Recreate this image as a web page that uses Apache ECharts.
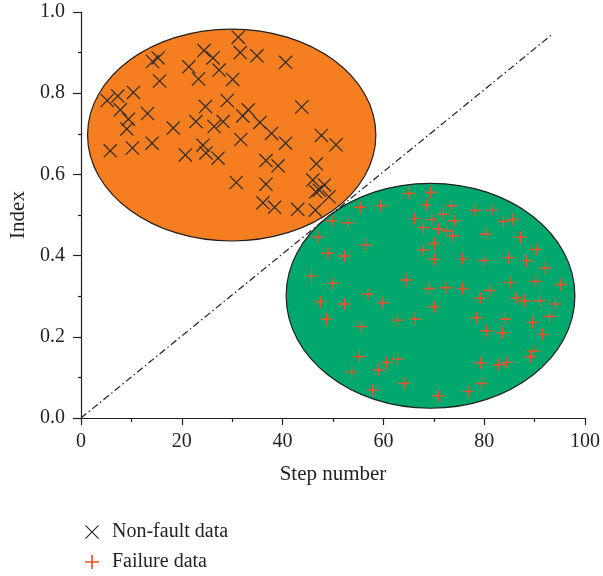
<!DOCTYPE html>
<html>
<head>
<meta charset="utf-8">
<script src="https://cdn.jsdelivr.net/npm/echarts@6/dist/echarts.min.js"></script>
<style>
  html, body { margin: 0; padding: 0; background: #fff; }
  #chart { width: 603px; height: 576px; }
</style>
</head>
<body>
<div id="chart"></div>
<script>
// Non-fault samples: [step number, index]
var nonFaultData = [
  [31.2, 0.938], [15.3, 0.887], [14.2, 0.878], [24.4, 0.905], [26.2, 0.887],
  [31.6, 0.900], [34.9, 0.892], [40.6, 0.876], [21.4, 0.865], [27.4, 0.857],
  [23.3, 0.835], [30.1, 0.834], [15.6, 0.830], [5.2, 0.782], [7.3, 0.793],
  [10.4, 0.802], [7.8, 0.759], [9.4, 0.736], [9.1, 0.712], [13.2, 0.750],
  [24.7, 0.767], [29.0, 0.782], [33.2, 0.759], [32.1, 0.744], [43.8, 0.766],
  [18.3, 0.714], [22.8, 0.730], [28.2, 0.730], [26.4, 0.718], [35.5, 0.728],
  [37.8, 0.701], [31.7, 0.686], [40.6, 0.677], [47.7, 0.696], [50.6, 0.673],
  [5.8, 0.658], [10.2, 0.665], [14.1, 0.677], [20.7, 0.648], [24.2, 0.672],
  [24.8, 0.653], [27.2, 0.640], [36.7, 0.634], [39.1, 0.621], [46.7, 0.626],
  [30.8, 0.580], [36.7, 0.576], [46.0, 0.586], [48.3, 0.574], [46.6, 0.557],
  [49.2, 0.545], [36.1, 0.530], [38.4, 0.519], [43.0, 0.514], [46.5, 0.512],
  [47.3, 0.561]
];

// Failure samples: [step number, index]
var failureData = [
  [65.1, 0.553], [69.4, 0.556], [55.4, 0.519], [59.5, 0.523], [68.5, 0.525],
  [73.5, 0.523], [71.9, 0.502], [78.2, 0.511], [81.5, 0.512], [66.2, 0.491],
  [69.6, 0.489], [74.0, 0.486], [83.8, 0.484], [85.7, 0.489], [49.8, 0.485],
  [52.9, 0.481], [67.9, 0.469], [70.9, 0.466], [72.7, 0.461], [73.8, 0.449],
  [80.3, 0.453], [87.2, 0.445], [47.0, 0.445], [56.5, 0.426], [70.1, 0.430],
  [67.9, 0.414], [49.0, 0.406], [52.3, 0.399], [70.1, 0.391], [75.7, 0.392],
  [79.9, 0.388], [84.9, 0.395], [88.4, 0.387], [90.3, 0.415], [92.1, 0.369],
  [45.7, 0.350], [50.0, 0.332], [64.5, 0.340], [85.1, 0.334], [90.2, 0.336],
  [95.2, 0.329], [69.1, 0.319], [72.4, 0.321], [75.7, 0.319], [81.1, 0.314],
  [56.9, 0.305], [47.5, 0.286], [52.3, 0.281], [59.9, 0.284], [79.2, 0.295],
  [86.3, 0.296], [88.0, 0.288], [91.0, 0.289], [94.1, 0.281], [70.1, 0.274],
  [48.7, 0.244], [62.8, 0.241], [66.3, 0.244], [78.5, 0.247], [84.2, 0.243],
  [93.0, 0.250], [89.6, 0.235], [55.6, 0.225], [80.4, 0.215], [83.6, 0.210],
  [91.6, 0.206], [55.2, 0.151], [89.8, 0.165], [89.2, 0.151], [62.8, 0.145],
  [60.6, 0.137], [53.7, 0.113], [59.1, 0.118], [79.3, 0.136], [82.9, 0.131],
  [84.5, 0.137], [64.1, 0.085], [79.5, 0.085], [57.9, 0.069], [76.8, 0.065],
  [70.9, 0.055]
];

// Cluster regions: [centre step, centre index, step radius, index radius]
var clusterRegions = [
  [29.9, 0.697, 28.6, 0.261],
  [69.35, 0.301, 28.65, 0.277]
];
var clusterColors = ['#F47E20', '#00A86E'];

// Separating boundary
var boundaryLine = [[0, 0], [93.3, 0.943]];

var xTicks = [0, 20, 40, 60, 80, 100];
var yTicks = [0.0, 0.2, 0.4, 0.6, 0.8, 1.0];

var seriesNames = ['Non-fault data', 'Failure data'];

var INK = '#231f20';
var FONT = '"Liberation Serif", "Times New Roman", serif';
var CROSS_PATH = 'path://M0,0.6L0.6,0L10,9.4L9.4,10Z M9.4,0L10,0.6L0.6,10L0,9.4Z';
var PLUS_PATH = 'path://M0,4.4H10V5.6H0Z M4.4,0H5.6V10H4.4Z';

function legendEntry(name, icon, top) {
  return {
    orient: 'vertical',
    left: 80,
    top: top,
    itemWidth: 14,
    itemHeight: 14,
    textStyle: { fontFamily: FONT, fontSize: 20, color: INK, padding: [0, 0, 0, 8] },
    data: [{ name: name, icon: icon }]
  };
}

var chart = echarts.init(document.getElementById('chart'), null, { renderer: 'canvas' });

chart.setOption({
  animation: false,
  backgroundColor: '#ffffff',
  grid: { left: 80.7, right: 16.5, top: 12, bottom: 158, containLabel: false },
  xAxis: {
    type: 'value',
    min: xTicks[0],
    max: xTicks[xTicks.length - 1],
    interval: xTicks[1] - xTicks[0],
    name: 'Step number',
    nameLocation: 'middle',
    nameGap: 46,
    nameTextStyle: { fontFamily: FONT, fontSize: 21, color: INK },
    axisLine: { show: true, onZero: false, lineStyle: { color: INK, width: 1.2 } },
    axisTick: { show: true, inside: false, length: 7, lineStyle: { color: INK, width: 1.2 } },
    minorTick: { show: true, splitNumber: 2, length: 4, lineStyle: { color: INK, width: 1.2 } },
    axisLabel: { fontFamily: FONT, fontSize: 20, color: INK, margin: 14 },
    splitLine: { show: false }
  },
  yAxis: {
    type: 'value',
    min: yTicks[0],
    max: yTicks[yTicks.length - 1],
    interval: 0.2,
    name: 'Index',
    nameLocation: 'middle',
    nameGap: 52,
    nameTextStyle: { fontFamily: FONT, fontSize: 21, color: INK },
    axisLine: { show: true, onZero: false, lineStyle: { color: INK, width: 1.2 } },
    axisTick: { show: true, inside: false, length: 8, lineStyle: { color: INK, width: 1.2 } },
    minorTick: { show: true, splitNumber: 2, length: 3, lineStyle: { color: INK, width: 1.2 } },
    axisLabel: {
      fontFamily: FONT, fontSize: 20, color: INK, margin: 16,
      formatter: function (v) { return v.toFixed(1); }
    },
    splitLine: { show: false }
  },
  legend: [
    legendEntry(seriesNames[0], CROSS_PATH, 517),
    legendEntry(seriesNames[1], PLUS_PATH, 547)
  ],
  series: [
    {
      name: 'boundary',
      type: 'line',
      data: boundaryLine,
      z: 1,
      symbol: 'none',
      silent: true,
      lineStyle: { color: INK, width: 1.2, type: [7, 3, 1.5, 3] }
    },
    {
      name: 'regions',
      type: 'custom',
      z: 2,
      silent: true,
      data: clusterRegions,
      renderItem: function (params, api) {
        var c = api.coord([api.value(0), api.value(1)]);
        var s = api.size([api.value(2), api.value(3)]);
        return {
          type: 'ellipse',
          shape: { cx: c[0], cy: c[1], rx: s[0], ry: s[1] },
          style: {
            fill: clusterColors[params.dataIndex],
            stroke: INK,
            lineWidth: 1.2
          }
        };
      }
    },
    {
      name: seriesNames[0],
      type: 'scatter',
      z: 3,
      data: nonFaultData,
      symbol: CROSS_PATH,
      symbolSize: 14,
      itemStyle: { color: '#2a2a2a', opacity: 1 }
    },
    {
      name: seriesNames[1],
      type: 'scatter',
      z: 3,
      data: failureData,
      symbol: PLUS_PATH,
      symbolSize: 12,
      itemStyle: { color: '#F2502A', opacity: 1 }
    }
  ]
});
</script>
</body>
</html>
